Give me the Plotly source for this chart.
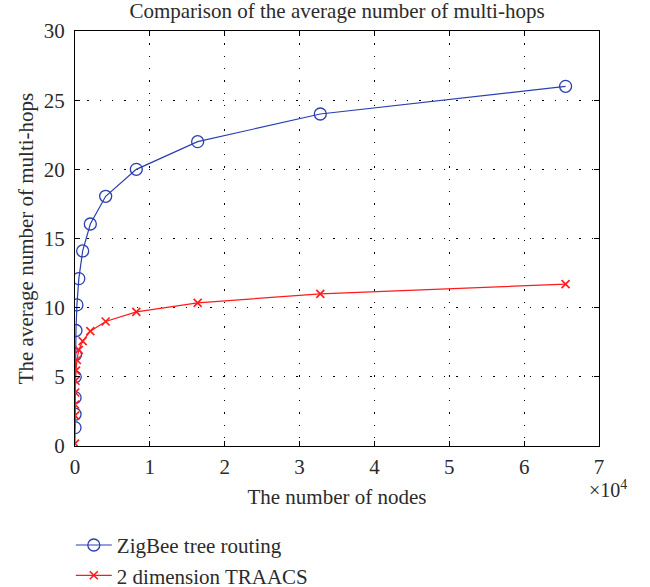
import plotly.graph_objects as go

nodes = [4, 8, 16, 32, 64, 128, 256, 512, 1024, 2048, 4096, 8192, 16384, 32768, 65536]
zigbee_hops = [1.33, 2.3, 3.5, 5.0, 6.6, 8.35, 10.2, 12.1, 14.1, 16.05, 18.05, 20.0, 22.0, 24.0, 26.0]
traacs_hops = [0.17, 2.2, 3.0, 3.87, 4.72, 5.45, 6.22, 6.95, 7.58, 8.3, 9.0, 9.7, 10.35, 11.0, 11.7]

x_tickvals = [0, 10000, 20000, 30000, 40000, 50000, 60000, 70000]
x_ticktext = ["0", "1", "2", "3", "4", "5", "6", "7"]
y_tickvals = [0, 5, 10, 15, 20, 25, 30]

FONT = "Liberation Serif"
TXT = "#2b2b2b"
FS = 21

fig = go.Figure()
fig.add_trace(go.Scatter(
    x=nodes, y=zigbee_hops, mode="lines+markers", name="ZigBee tree routing",
    line=dict(color="#2a3fb0", width=1.2),
    marker=dict(symbol="circle-open", size=12, color="#2a3fb0", line=dict(width=1.3)),
))
fig.add_trace(go.Scatter(
    x=nodes, y=traacs_hops, mode="lines+markers", name="2 dimension TRAACS",
    line=dict(color="#ff1a1a", width=1.2),
    marker=dict(symbol="x-thin-open", size=8, color="#ff1a1a", line=dict(width=1.6, color="#ff1a1a")),
))

axis_common = dict(
    showline=True, linecolor="black", linewidth=1.3, mirror="allticks",
    ticks="inside", ticklen=5, tickcolor="black", tickwidth=1,
    showgrid=True, gridcolor="black", griddash="1.3px,11px", gridwidth=1,
    zeroline=False, tickfont=dict(family=FONT, size=FS, color=TXT),
)

fig.update_layout(
    width=650, height=587,
    margin=dict(l=75, r=51, t=31, b=141, autoexpand=False),
    paper_bgcolor="white", plot_bgcolor="white",
    font=dict(family=FONT, size=FS, color=TXT),
    title=dict(text="Comparison of the average number of multi-hops", x=0.5, xref="paper",
               y=1, yref="container", yanchor="top", pad=dict(t=3),
               font=dict(family=FONT, size=FS, color=TXT)),
    xaxis=dict(range=[0, 70000], tickvals=x_tickvals, ticktext=x_ticktext,
               ticklabelstandoff=2,
               title=dict(text="The number of nodes", standoff=10,
                          font=dict(family=FONT, size=FS, color=TXT)),
               **axis_common),
    yaxis=dict(range=[0, 30], tickvals=y_tickvals,
               ticklabelstandoff=5,
               title=dict(text="The average number of multi-hops", standoff=4,
                          font=dict(family=FONT, size=FS, color=TXT)),
               **axis_common),
    legend=dict(x=-0.008, y=-0.19, xanchor="left", yanchor="top", bgcolor="rgba(0,0,0,0)",
                font=dict(family=FONT, size=FS, color=TXT), itemwidth=36, tracegroupgap=0),
    showlegend=True,
)

fig.add_annotation(text="×10<sup>4</sup>", xref="paper", yref="paper", x=1.0, y=-0.07,
                   xanchor="right", yanchor="top", showarrow=False,
                   font=dict(family=FONT, size=20, color=TXT), xshift=30)

fig.write_html("out.html")
